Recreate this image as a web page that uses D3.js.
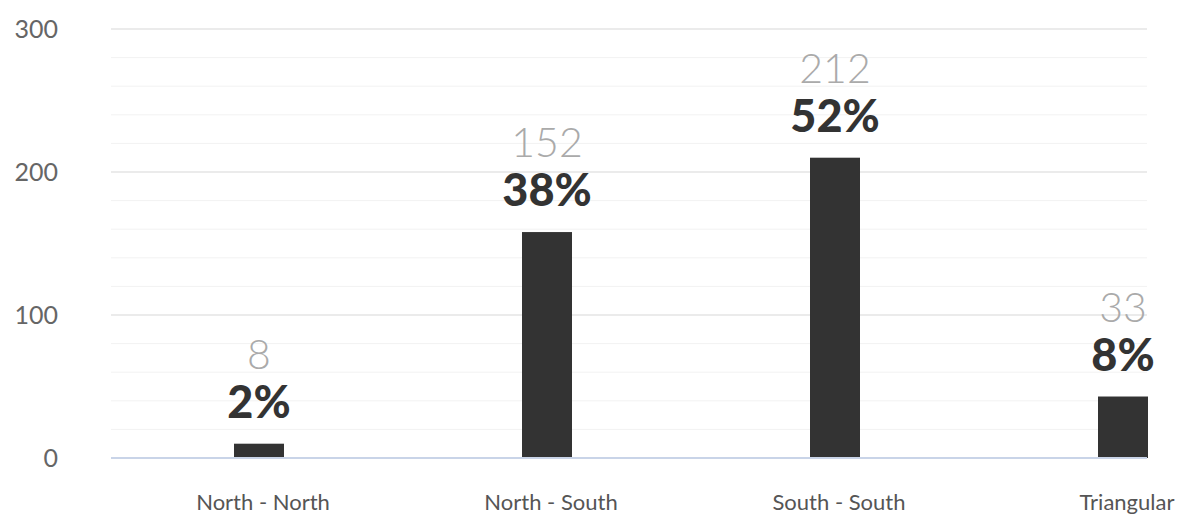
<!DOCTYPE html>
<html><head><meta charset="utf-8">
<script src="https://cdn.jsdelivr.net/npm/d3@7"></script>
<style>body{margin:0;background:#fff}svg{display:block}text{font-family:Lato,"Open Sans",sans-serif}</style>
</head><body>
<svg id="c" width="1187" height="516"></svg>
<script>
const categories = ["North - North", "North - South", "South - South", "Triangular"];
const barValues = [10, 158, 210, 43];
const countLabels = ["8", "152", "212", "33"];
const percentLabels = ["2%", "38%", "52%", "8%"];
const yTicks = [0, 100, 200, 300];
const yMinor = [20, 40, 60, 80, 120, 140, 160, 180, 220, 240, 260, 280];

const svg = d3.select("#c");
const y = d3.scaleLinear().domain([0, 300]).range([458, 29]);
const x = d3.scaleBand().domain(categories).range([115, 1267]);
const plotL = 111, plotR = 1147, barW = 50;

svg.append("g").selectAll("line").data(yMinor).join("line")
  .attr("x1", plotL).attr("x2", plotR)
  .attr("y1", d => y(d)).attr("y2", d => y(d))
  .attr("stroke", "#f2f2f2").attr("stroke-width", 1);
svg.append("g").selectAll("line").data(yTicks.filter(d => d > 0)).join("line")
  .attr("x1", plotL).attr("x2", plotR)
  .attr("y1", d => y(d)).attr("y2", d => y(d))
  .attr("stroke", "#e4e4e4").attr("stroke-width", 1.5);

svg.append("g").selectAll("text").data(yTicks).join("text")
  .attr("x", 58).attr("y", d => y(d)).attr("dy", "0.35em")
  .attr("text-anchor", "end").attr("font-size", 25).attr("fill", "#666")
  .text(d => d);

const cx = c => x(c) + x.bandwidth() / 2;

svg.append("g").selectAll("rect").data(categories).join("rect")
  .attr("x", d => cx(d) - barW / 2).attr("width", barW)
  .attr("y", (d, i) => y(barValues[i]))
  .attr("height", (d, i) => y(0) - y(barValues[i]))
  .attr("fill", "#333333");

svg.append("line").attr("x1", plotL).attr("x2", plotR)
  .attr("y1", y(0)).attr("y2", y(0)).attr("stroke", "#c9d4e8").attr("stroke-width", 2);

svg.append("g").selectAll("text").data(categories).join("text")
  .attr("x", d => cx(d)).attr("y", (d, i) => y(barValues[i]) - 26)
  .attr("text-anchor", "middle").attr("font-size", 45).attr("font-weight", 900)
  .attr("fill", "#333").text((d, i) => percentLabels[i]);

svg.append("g").selectAll("text").data(categories).join("text")
  .attr("x", d => cx(d)).attr("y", (d, i) => y(barValues[i]) - 75)
  .attr("text-anchor", "middle").attr("font-size", 41).attr("font-weight", 300)
  .attr("fill", "#aaaaaa").text((d, i) => countLabels[i]);

svg.append("g").selectAll("text").data(categories).join("text")
  .attr("x", d => cx(d) + 4).attr("y", 510)
  .attr("text-anchor", "middle").attr("font-size", 22)
  .attr("fill", "#555").text(d => d);
</script>
</body></html>
